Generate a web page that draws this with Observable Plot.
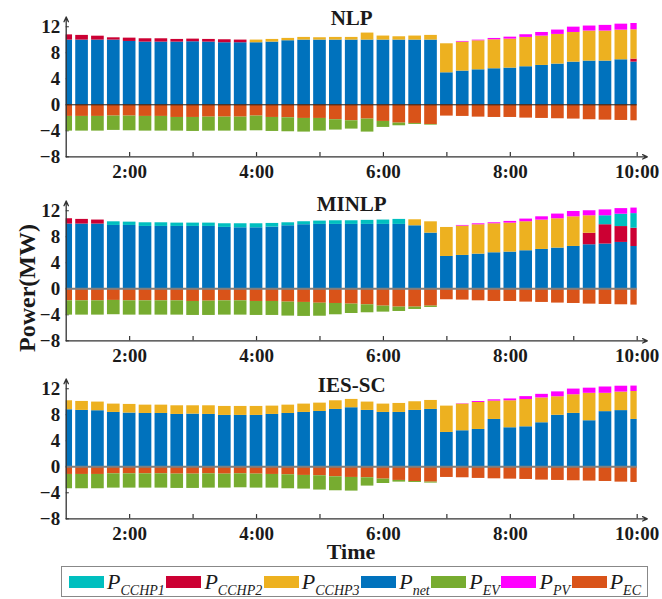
<!DOCTYPE html>
<html><head><meta charset="utf-8">
<script src="https://cdn.jsdelivr.net/npm/d3@7"></script>
<script src="https://cdn.jsdelivr.net/npm/@observablehq/plot@0.6"></script>
<style>
body{margin:0;background:#fff;}
#root{position:relative;width:662px;height:599px;font-family:"Liberation Serif","Times New Roman",serif;color:#1a1a1a;overflow:hidden;}
.panel{position:absolute;left:0;}
#ylabel{position:absolute;left:27px;top:288px;transform:translate(-50%,-50%) rotate(-90deg);font-weight:bold;font-size:24px;line-height:24px;white-space:nowrap;}
#xlabel{position:absolute;left:351px;top:552px;transform:translate(-50%,-50%);font-weight:bold;font-size:22px;line-height:20px;}
#legend{position:absolute;left:61px;top:566px;width:587px;height:31px;box-sizing:border-box;border:1px solid #888;display:flex;justify-content:space-between;align-items:center;padding:0 6px 0 7px;}
.item{display:flex;align-items:center;}
.sw{width:35px;height:12px;margin-right:3px;}
.lab{font-style:italic;font-size:22px;line-height:22px;white-space:nowrap;}
.lab sub{font-size:14px;vertical-align:-6px;line-height:0;}
</style></head>
<body><div id="root">
<div id="ylabel">Power(MW)</div>
<div id="xlabel">Time</div>
<div id="legend"></div>
</div>
<script>
const times = ["1:00","1:15","1:30","1:45","2:00","2:15","2:30","2:45","3:00","3:15","3:30","3:45","4:00","4:15","4:30","4:45","5:00","5:15","5:30","5:45","6:00","6:15","6:30","6:45","7:00","7:15","7:30","7:45","8:00","8:15","8:30","8:45","9:00","9:15","9:30","9:45","10:00"];
const xTickLabels = ["2:00","4:00","6:00","8:00","10:00"];
const xTickMarks = ["2:00","3:00","4:00","5:00","6:00","7:00","8:00","9:00","10:00"];
const yTicks = [-8,-4,0,4,8,12];
const panelTitles = ["NLP","MINLP","IES-SC"];
const seriesKeys = ["CCHP1","CCHP2","CCHP3","net","EV","PV","EC"];
const seriesColors = ["#00BFBF","#CC0033","#EDB120","#0072BD","#77AC30","#FF00FF","#D95319"];
const stackOrder = ["net","CCHP2","CCHP1","CCHP3","PV","EC","EV"];

// NLP
const nlpNet = [9.95,9.95,9.95,9.95,9.74,9.64,9.64,9.64,9.69,9.64,9.54,9.54,9.54,9.64,9.85,9.95,9.95,9.95,9.95,9.95,9.95,9.95,9.95,9.95,4.92,5.18,5.38,5.54,5.64,5.85,6.05,6.26,6.56,6.72,6.72,6.92,6.56];
const nlpCCHP1 = [0,0,0,0,0,0,0,0,0,0,0,0,0,0,0,0,0,0,0,0,0,0,0,0,0,0,0,0,0,0,0,0,0,0,0,0,0];
const nlpCCHP2 = [0.8,0.72,0.6,0.35,0.51,0.51,0.51,0.41,0.41,0.41,0.46,0.41,0,0,0,0,0,0,0,0,0,0,0,0,0,0,0,0,0,0,0,0,0,0,0,0,0.46];
const nlpCCHP3 = [0,0,0,0,0,0,0,0,0,0,0,0,0.41,0.41,0.36,0.41,0.36,0.41,0.41,1.08,0.62,0.51,0.62,0.72,4.46,4.46,4.46,4.46,4.46,4.51,4.51,4.56,4.56,4.62,4.62,4.56,4.51];
const nlpPV = [0,0,0,0,0,0,0,0,0,0,0,0,0,0,0,0,0,0,0,0,0,0,0,0,0,0.1,0.1,0.2,0.3,0.41,0.56,0.67,0.82,0.77,0.87,0.92,0.97];
const nlpEC = [-1.79,-1.79,-1.79,-1.74,-1.74,-1.79,-1.79,-1.95,-1.95,-1.9,-1.9,-1.9,-1.74,-1.95,-2.0,-2.1,-2.1,-2.3,-2.46,-2.2,-2.56,-2.82,-2.87,-3.03,-1.74,-1.79,-1.9,-1.95,-1.95,-2.05,-2.1,-2.15,-2.2,-2.3,-2.36,-2.41,-2.46];
const nlpEV = [-2.26,-2.26,-2.26,-2.2,-2.26,-2.26,-2.26,-2.1,-2.15,-2.15,-2.15,-2.15,-2.26,-2.15,-2.15,-2.1,-1.95,-1.59,-1.28,-2.0,-0.92,-0.41,-0.15,-0.1,0,0,0,0,0,0,0,0,0,0,0,0,0];

// MINLP
const minNet = [9.95,9.95,9.95,9.74,9.74,9.59,9.59,9.59,9.59,9.59,9.44,9.38,9.38,9.49,9.69,9.85,9.9,9.9,9.9,9.9,9.9,9.9,9.69,8.56,4.97,5.13,5.33,5.54,5.64,5.85,6.05,6.26,6.51,6.77,6.88,7.13,6.5];
const minCCHP1 = [0,0,0,0.56,0.51,0.56,0.56,0.51,0.51,0.51,0.56,0.62,0.62,0.56,0.46,0.46,0.51,0.56,0.56,0.62,0.67,0.77,0,0,0,0,0,0,0,0,0,0,0,0,1.38,1.9,2.25];
const minCCHP2 = [0.82,0.72,0.62,0,0,0,0,0,0,0,0,0,0,0,0,0,0,0,0,0,0,0,0,0,0,0,0,0,0,0,0,0,0,1.77,2.97,2.44,2.81];
const minCCHP3 = [0,0,0,0,0,0,0,0,0,0,0,0,0,0,0,0,0,0,0,0,0,0,0.92,1.74,4.46,4.51,4.51,4.46,4.46,4.46,4.51,4.51,4.56,2.69,0,0,0];
const minPV = [0,0,0,0,0,0,0,0,0,0,0,0,0,0,0,0,0,0,0,0,0,0,0,0,0,0.1,0.15,0.15,0.26,0.41,0.51,0.72,0.82,0.77,0.9,0.86,0.85];
const minEC = [-1.85,-1.85,-1.85,-1.79,-1.85,-1.85,-1.85,-1.85,-1.95,-1.9,-1.85,-1.85,-1.95,-1.95,-2.05,-2.1,-2.22,-2.26,-2.36,-2.46,-2.67,-2.82,-2.82,-2.67,-1.69,-1.74,-1.85,-1.95,-1.95,-2.05,-2.1,-2.2,-2.26,-2.36,-2.41,-2.46,-2.51];
const minEV = [-2.2,-2.2,-2.2,-2.2,-2.2,-2.2,-2.2,-2.2,-2.15,-2.2,-2.2,-2.2,-2.15,-2.15,-2.15,-2.15,-2.0,-1.74,-1.44,-1.23,-0.92,-0.67,-0.36,-0.2,0,0,0,0,0,0,0,0,0,0,0,0,0];

// IES-SC
const iesNet = [8.77,8.67,8.62,8.36,8.26,8.2,8.2,8.05,8.1,8.05,7.9,7.9,7.9,8.05,8.2,8.36,8.51,8.82,9.08,8.67,8.36,8.36,8.67,8.82,5.28,5.54,5.74,7.28,6.0,6.15,6.77,7.92,8.21,7.08,8.48,8.64,7.28];
const iesCCHP1 = [0,0,0,0,0,0,0,0,0,0,0,0,0,0,0,0,0,0,0,0,0,0,0,0,0,0,0,0,0,0,0,0,0,0,0,0,0];
const iesCCHP2 = [0,0,0,0,0,0,0,0,0,0,0,0,0,0,0,0,0,0,0,0,0,0,0,0,0,0,0,0,0,0,0,0,0,0,0,0,0];
const iesCCHP3 = [1.38,1.38,1.33,1.28,1.33,1.28,1.28,1.33,1.28,1.33,1.38,1.38,1.38,1.28,1.28,1.28,1.28,1.33,1.28,1.28,1.28,1.38,1.33,1.38,4.05,4.1,4.15,2.82,4.15,4.2,3.82,2.85,2.87,4.22,2.82,2.85,4.3];
const iesPV = [0,0,0,0,0,0,0,0,0,0,0,0,0,0,0,0,0,0,0,0,0,0,0,0,0,0.05,0.15,0.2,0.28,0.44,0.55,0.75,0.87,0.79,0.97,0.9,0.83];
const iesEC = [-1.18,-1.18,-1.18,-1.08,-1.08,-1.08,-1.08,-1.13,-1.13,-1.08,-1.13,-1.08,-1.13,-1.18,-1.23,-1.33,-1.38,-1.54,-1.64,-1.69,-1.9,-2.1,-2.26,-2.36,-1.64,-1.69,-1.79,-1.85,-1.9,-1.95,-2.05,-2.1,-2.15,-2.2,-2.26,-2.36,-2.41];
const iesEV = [-2.2,-2.2,-2.2,-2.2,-2.2,-2.2,-2.2,-2.2,-2.2,-2.2,-2.15,-2.15,-2.15,-2.1,-2.15,-2.1,-2.2,-2.15,-2.1,-1.28,-0.67,-0.26,-0.15,-0.15,0,0,0,0,0,0,0,0,0,0,0,0,0];

const toHour = s => { const [h, m] = s.split(":"); return +h + (+m) / 60; };
const hours = times.map(toHour);
const panelValues = [
  {CCHP1: nlpCCHP1, CCHP2: nlpCCHP2, CCHP3: nlpCCHP3, net: nlpNet, EV: nlpEV, PV: nlpPV, EC: nlpEC},
  {CCHP1: minCCHP1, CCHP2: minCCHP2, CCHP3: minCCHP3, net: minNet, EV: minEV, PV: minPV, EC: minEC},
  {CCHP1: iesCCHP1, CCHP2: iesCCHP2, CCHP3: iesCCHP3, net: iesNet, EV: iesEV, PV: iesPV, EC: iesEC}
];
const panelLayout = [
  {top: 0, titleDy: 1.5, zeroStroke: "#1a1a1a", zeroWidth: 1},
  {top: 183.7, titleDy: 3.5, zeroStroke: "#7f7f7f", zeroWidth: 2},
  {top: 361.5, titleDy: 6, zeroStroke: "#7f7f7f", zeroWidth: 2}
];

const H = 182, frameTop = 16.5, frameBottom = 156.3;
const xMin = hours[0], xMax = hours[hours.length - 1];
const yTop = 13.5;
const step = hours[1] - hours[0];
const labelOf = new Map(xTickLabels.map(s => [toHour(s), s]));
const root = document.getElementById("root");

panelTitles.forEach((title, p) => {
  const v = panelValues[p], L = panelLayout[p];
  const rows = [];
  hours.forEach((t, i) => { for (const k of stackOrder) rows.push({t, series: k, value: v[k][i]}); });
  const chart = Plot.plot({
    width: 662, height: H,
    marginLeft: 65.7, marginRight: 25.3, marginTop: frameTop, marginBottom: H - frameBottom,
    style: {background: "transparent", overflow: "visible", fontFamily: '"Liberation Serif","Times New Roman",serif', fontWeight: "bold", fontSize: "19px", color: "#1a1a1a"},
    x: {domain: [xMin, xMax], axis: null},
    y: {domain: [yTicks[0], yTop], axis: null},
    color: {domain: seriesKeys, range: seriesColors},
    marks: [
      Plot.ruleY(yTicks, {x1: xMin, x2: xMin + 0.05, stroke: "#333"}),
      Plot.rectY(rows, {x1: d => d.t - step / 2, x2: d => d.t + step / 2, y: "value", fill: "series", insetLeft: 1.6, insetRight: 1.6, clip: true}),
      Plot.ruleY([0], {stroke: L.zeroStroke, strokeWidth: L.zeroWidth}),
      Plot.ruleX(xTickMarks.map(toHour), {y1: yTicks[0], y2: yTicks[0] + 0.65, stroke: "#333", strokeWidth: 1.2}),
      Plot.arrow([0], {x1: xMin, y1: yTicks[0], x2: xMax + 0.16, y2: yTicks[0], stroke: "#333", strokeWidth: 1.3, headLength: 6, headAngle: 50}),
      Plot.arrow([0], {x1: xMin, y1: yTicks[0], x2: xMin, y2: yTop, stroke: "#333", strokeWidth: 1.3, headLength: 6, headAngle: 50}),
      Plot.axisY(yTicks, {tickSize: 0, tickPadding: 6, fontSize: 19, label: null}),
      Plot.axisX(xTickLabels.map(toHour), {tickSize: 0, tickPadding: 7.5, fontSize: 19, label: null, tickFormat: d => labelOf.get(d)}),
      Plot.text([title], {frameAnchor: "top", lineAnchor: "middle", dy: L.titleDy, fontSize: 21, fontWeight: "bold"})
    ]
  });
  const div = document.createElement("div");
  div.className = "panel";
  div.style.top = L.top + "px";
  div.appendChild(chart);
  root.insertBefore(div, root.firstChild);
});

const legend = document.getElementById("legend");
seriesKeys.forEach((k, i) => {
  const item = document.createElement("div");
  item.className = "item";
  item.innerHTML = `<div class="sw" style="background:${seriesColors[i]}"></div><span class="lab">P<sub>${k}</sub></span>`;
  legend.appendChild(item);
});
</script>
</body></html>
